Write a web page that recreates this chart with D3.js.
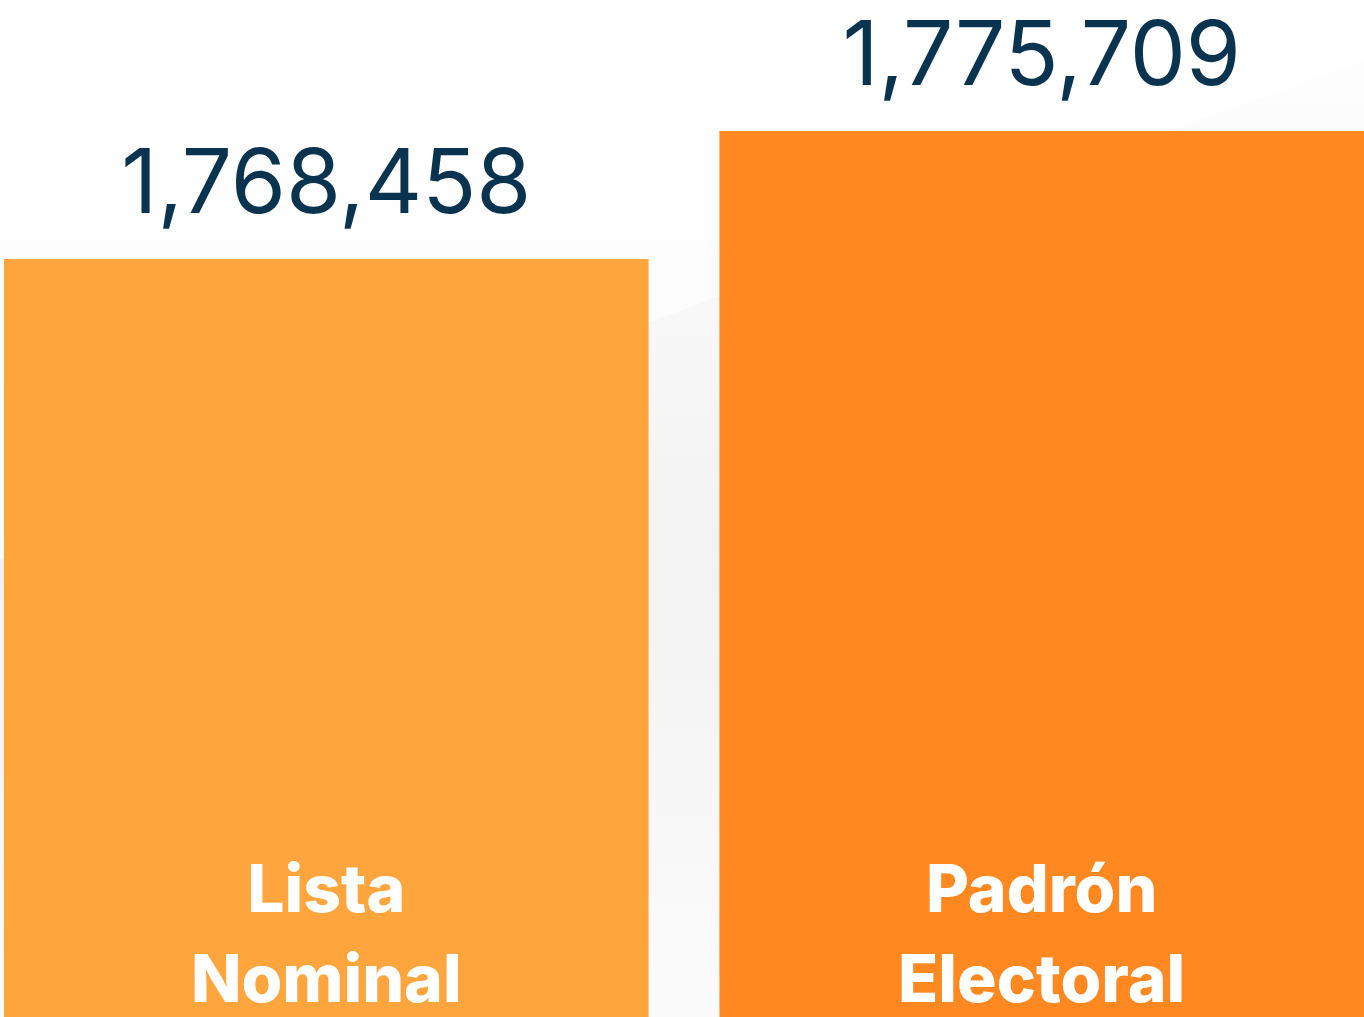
<!DOCTYPE html>
<html>
<head>
<meta charset="utf-8">
<script src="https://cdn.jsdelivr.net/npm/d3@7"></script>
<style>
  html, body { margin: 0; padding: 0; background: #fff; overflow: hidden; }
</style>
</head>
<body>
<script>
const categories = ['Lista\nNominal', 'Padrón\nElectoral'];
const values = [1768458, 1775709];
const colors = ['#ffa53e', '#ff8820'];

const width = 1364;
const height = 1017;

const svg = d3.select('body')
    .append('svg')
    .attr('width', width)
    .attr('height', height);

// soft grey background washes
const defs = svg.append('defs');
const wash = defs.append('linearGradient')
    .attr('id', 'wash')
    .attr('x1', '0%').attr('y1', '0%')
    .attr('x2', '0%').attr('y2', '100%');
wash.append('stop').attr('offset', '0%').style('stop-color', '#ffffff');
wash.append('stop').attr('offset', '55%').style('stop-color', '#f1f1f1');
wash.append('stop').attr('offset', '100%').style('stop-color', '#fbfbfb');

svg.append('rect')
    .attr('width', width)
    .attr('height', height)
    .attr('fill', 'url(#wash)')
    .attr('opacity', 0.9);

svg.append('path')
    .attr('d', `M0,0 L${width},0 L${width},60 L0,560 Z`)
    .attr('fill', '#ffffff')
    .attr('opacity', 0.7);

// y scale does not start at zero: bars show the small difference
const y = d3.scaleLinear()
    .domain([1725520, 1775709])
    .range([height, 131]);

const x = d3.scaleBand()
    .domain(categories)
    .range([4, width])
    .paddingInner(0.099);

const bars = svg.selectAll('.bar')
    .data(categories)
    .enter()
    .append('g')
    .classed('bar', true);

bars.append('rect')
    .attr('x', d => x(d))
    .attr('y', (d, i) => y(values[i]))
    .attr('width', x.bandwidth())
    .attr('height', (d, i) => height - y(values[i]))
    .attr('fill', (d, i) => colors[i]);

// value labels
bars.append('text')
    .attr('x', d => x(d) + x.bandwidth() / 2)
    .attr('y', (d, i) => y(values[i]) - 46)
    .attr('text-anchor', 'middle')
    .style('font-family', 'Inter, "Open Sans", sans-serif')
    .style('font-weight', 400)
    .style('font-size', '89px')
    .style('fill', '#0a334f')
    .text((d, i) => d3.format(',')(values[i]));

// category labels inside bars
bars.each(function (d) {
    const g = d3.select(this);
    const lines = d.split('\n');
    const t = g.append('text')
        .attr('text-anchor', 'middle')
        .style('font-family', 'Inter, "Open Sans", sans-serif')
        .style('font-weight', 800)
        .style('font-size', '66px')
        .style('fill', '#ffffff');
    lines.forEach((line, j) => {
        t.append('tspan')
            .attr('x', x(d) + x.bandwidth() / 2)
            .attr('y', 912 + j * 90)
            .text(line);
    });
});
</script>
</body>
</html>
